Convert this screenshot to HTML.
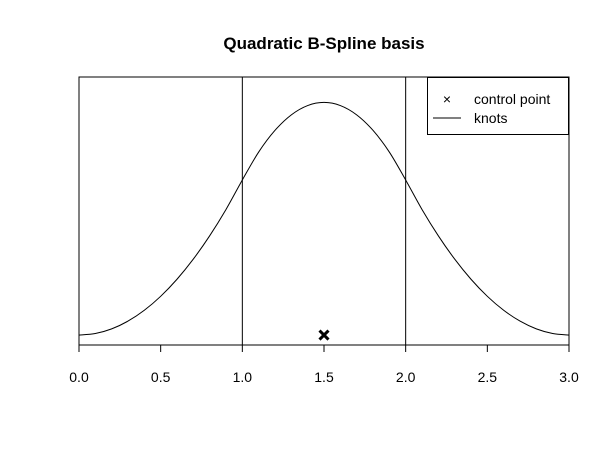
<!DOCTYPE html>
<html><head><meta charset="utf-8"><style>
body{margin:0;background:#fff;}
svg text{font-family:"Liberation Sans",Arial,sans-serif;}
</style></head><body>
<svg id="chart" width="610" height="444" xmlns="http://www.w3.org/2000/svg">
<rect width="610" height="444" fill="#fff"/>
<text x="324" y="49" text-anchor="middle" font-size="17" font-weight="bold">Quadratic B-Spline basis</text>
<rect x="79" y="77" width="490" height="268" fill="none" stroke="#000" stroke-width="1"/>
<g id="xaxis"></g>
<g id="marks"></g>
<g>
<rect x="427.5" y="77.5" width="141" height="57" fill="#fff" stroke="#000"/>
<text x="447" y="104" text-anchor="middle" font-size="14">×</text>
<text x="474" y="104" font-size="14">control point</text>
<line x1="433" y1="118" x2="461" y2="118" stroke="#000"/>
<text x="474" y="123" font-size="14">knots</text>
</g>
</svg>
<script>
const xSamples=[0,0.1,0.2,0.3,0.4,0.5,0.6,0.7,0.8,0.9,1.0,1.1,1.2,1.3,1.4,1.5,1.6,1.7,1.8,1.9,2.0,2.1,2.2,2.3,2.4,2.5,2.6,2.7,2.8,2.9,3.0];
const ySamples=[0,0.005,0.02,0.045,0.08,0.125,0.18,0.245,0.32,0.405,0.5,0.59,0.66,0.71,0.74,0.75,0.74,0.71,0.66,0.59,0.5,0.405,0.32,0.245,0.18,0.125,0.08,0.045,0.02,0.005,0];
const knots=[1,2];
const controlPoints=[[1.5,0]];
const xTicks=[0,0.5,1,1.5,2,2.5,3];
const xTickLabels=["0.0","0.5","1.0","1.5","2.0","2.5","3.0"];
const NS="http://www.w3.org/2000/svg";
const X0=79,X1=569,Y0=77,Y1=345,xmin=0,xmax=3,ymin=-0.032,ymax=0.832;
const sx=v=>X0+(v-xmin)/(xmax-xmin)*(X1-X0);
const sy=v=>Y1-(v-ymin)/(ymax-ymin)*(Y1-Y0);
function mk(tag,attrs,parent){const e=document.createElementNS(NS,tag);for(const k in attrs)e.setAttribute(k,attrs[k]);parent.appendChild(e);return e;}
const ax=document.getElementById('xaxis'),mg=document.getElementById('marks');
xTicks.forEach((t,i)=>{
 const l=mk('line',{x1:sx(t),x2:sx(t),y1:Y1,y2:Y1+7,stroke:'#000'},ax);
 
 
 const tx=mk('text',{x:sx(t),y:Y1+37,'text-anchor':'middle','font-size':'14'},ax);
 tx.textContent=xTickLabels[i];
 
 
});
knots.forEach(k=>{
 const l=mk('line',{x1:sx(k),x2:sx(k),y1:Y0,y2:Y1,stroke:'#000'},mg);
 
 
});
// catmull-rom smooth path
const pts=xSamples.map((x,i)=>[sx(x),sy(ySamples[i])]);
let d=`M${pts[0][0]},${pts[0][1]}`;
for(let i=0;i<pts.length-1;i++){
 const p0=pts[Math.max(0,i-1)],p1=pts[i],p2=pts[i+1],p3=pts[Math.min(pts.length-1,i+2)];
 const c1=[p1[0]+(p2[0]-p0[0])/6,p1[1]+(p2[1]-p0[1])/6];
 const c2=[p2[0]-(p3[0]-p1[0])/6,p2[1]-(p3[1]-p1[1])/6];
 d+=` C${c1[0]},${c1[1]} ${c2[0]},${c2[1]} ${p2[0]},${p2[1]}`;
}
const curve=mk('path',{d:d,fill:'none',stroke:'#000','stroke-width':'1'},mg);


controlPoints.forEach(p=>{
 const cx=sx(p[0]),cy=sy(p[1]),r=4.5;
 const g=mk('path',{d:`M${cx-r},${cy-r}L${cx+r},${cy+r}M${cx-r},${cy+r}L${cx+r},${cy-r}`,stroke:'#000','stroke-width':'3'},mg);
 
 
});
</script>
</body></html>
